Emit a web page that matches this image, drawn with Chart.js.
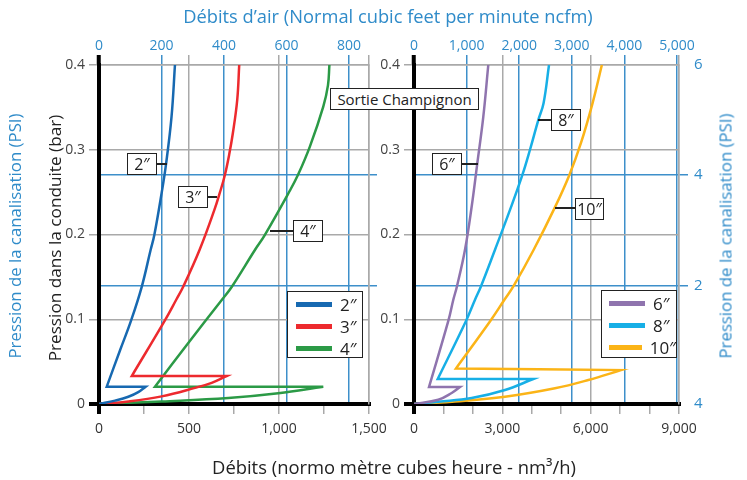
<!DOCTYPE html>
<html>
<head>
<meta charset="utf-8">
<script src="https://cdn.jsdelivr.net/npm/chart.js@4.4.1/dist/chart.umd.min.js"></script>
<style>
  body { margin: 0; background: #fff; font-family: "Open Sans", sans-serif; }
  #wrap { position: relative; width: 747px; height: 480px; overflow: hidden; }
  canvas { position: absolute; top: 0; }
  .t { position: absolute; white-space: nowrap; transform: translate(-50%, -50%); }
  .rot { transform: translate(-50%, -50%) rotate(-90deg); }
  .box { position: absolute; background: #fff; border: 1.5px solid #222; box-sizing: border-box;
         color: #222; font-size: 16px; display: flex; align-items: center; justify-content: center; }
  .lead { position: absolute; height: 1.5px; background: #222; }
  .legend { position: absolute; background: #fff; border: 1.5px solid #222; box-sizing: border-box; padding-top: 1px; }
  .lrow { height: 22px; display: flex; align-items: center; font-size: 17px; color: #222; }
  .sw { display: inline-block; width: 36px; height: 5px; margin-right: 8px; }
</style>
</head>
<body>
<div id="wrap">
  <canvas id="left" width="395" height="480" style="left:0"></canvas>
  <canvas id="right" width="377" height="480" style="left:370px"></canvas>

  <div class="t" style="left:388px;top:15px;font-size:18.3px;color:#2f8bc9">Débits d’air (Normal cubic feet per minute ncfm)</div>
  <div class="t" style="left:394px;top:466px;font-size:18.4px;color:#222">Débits (normo mètre cubes heure - nm³/h)</div>
  <div class="t rot" style="left:14px;top:236px;font-size:16.8px;color:#2f8bc9">Pression de la canalisation (PSI)</div>
  <div class="t rot" style="left:54px;top:238px;font-size:17.2px;color:#222">Pression dans la conduite (bar)</div>
  <div class="t rot" style="left:725px;top:236px;font-size:16.8px;color:#2f8bc9">Pression de la canalisation (PSI)</div>

  <div class="box" style="left:330px;top:88px;width:149px;height:22px;font-size:15px">Sortie Champignon</div>
  <div class="lead" style="left:156px;top:163px;width:11px"></div>
  <div class="box" style="left:127px;top:153px;width:30px;height:22px">2″</div>
  <div class="lead" style="left:207px;top:196px;width:10px"></div>
  <div class="box" style="left:178px;top:186px;width:30px;height:22px">3″</div>
  <div class="lead" style="left:270px;top:230px;width:24px"></div>
  <div class="box" style="left:293px;top:220px;width:30px;height:22px">4″</div>
  <div class="lead" style="left:461px;top:163px;width:17px"></div>
  <div class="box" style="left:432px;top:153px;width:30px;height:22px">6″</div>
  <div class="lead" style="left:538px;top:119px;width:14px"></div>
  <div class="box" style="left:551px;top:109px;width:30px;height:22px">8″</div>
  <div class="lead" style="left:555px;top:207px;width:21px"></div>
  <div class="box" style="left:575px;top:198px;width:29px;height:22px">10″</div>

  <div class="legend" id="legL" style="left:287px;top:291px;width:76px;height:67px;padding-left:8px"></div>
  <div class="legend" id="legR" style="left:601px;top:290px;width:76px;height:68px;padding-left:7px"></div>
</div>

<script>
// flow in nm3/h (x) and pressure in bar (y):
// origin -> peak -> jump back -> up to 0.4 bar
const flow2 = [0, 89, 163, 218, 259, 43, 118, 179, 237, 287, 307, 348, 373, 403, 422];
const pres2 = [0, 0.004, 0.0085, 0.014, 0.0205, 0.0205, 0.064, 0.099, 0.138, 0.182, 0.199, 0.249, 0.284, 0.339, 0.4];
const flow3 = [0, 163, 348, 533, 626, 709, 182, 367, 429, 467, 559, 641, 671, 699, 723, 744, 768, 779];
const pres3 = [0, 0.003, 0.009, 0.019, 0.025, 0.033, 0.033, 0.099, 0.123, 0.138, 0.182, 0.229, 0.249, 0.270, 0.294, 0.320, 0.359, 0.4];
const flow4 = [0, 348, 718, 996, 1246, 311, 496, 683, 737, 867, 920, 1061, 1107, 1172, 1246, 1272, 1280];
const pres4 = [0, 0.003, 0.007, 0.0126, 0.0204, 0.0204, 0.072, 0.123, 0.138, 0.182, 0.199, 0.252, 0.271, 0.304, 0.351, 0.376, 0.4];

const flow6 = [0, 825, 1280, 1562, 509, 1165, 1335, 1460, 1732, 1959, 2150, 2354, 2523];
const pres6 = [0, 0.005, 0.013, 0.020, 0.020, 0.098, 0.123, 0.139, 0.182, 0.233, 0.284, 0.339, 0.4];
const flow8 = [0, 825, 1959, 3090, 4051, 805, 1766, 2072, 2276, 2751, 3260, 3678, 3939, 4221, 4400, 4585];
const pres8 = [0, 0.0027, 0.007, 0.0165, 0.0295, 0.0295, 0.098, 0.123, 0.139, 0.182, 0.229, 0.270, 0.300, 0.335, 0.355, 0.4];
const flow10 = [0, 1392, 3090, 4788, 5919, 7030, 1426, 2591, 3070, 3379, 4065, 4785, 5274, 5671, 6065, 6380];
const pres10 = [0, 0.003, 0.0086, 0.0185, 0.0283, 0.040, 0.042, 0.098, 0.123, 0.139, 0.182, 0.232, 0.270, 0.308, 0.355, 0.4];

const leftSizes = ['2″', '3″', '4″'];
const rightSizes = ['6″', '8″', '10″'];
const leftColors = ['#1769b1', '#ed2a2e', '#2b9a46'];
const rightColors = ['#8f74ae', '#17afe6', '#fbb417'];

const barTicks = [0, 0.1, 0.2, 0.3, 0.4];
const barLabels = ['0', '0.1', '0.2', '0.3', '0.4'];
const psiTicksBar = [0, 0.139, 0.27, 0.4];
const psiLabels = ['4', '2', '4', '6'];

const nmTicksLeft = [0, 250, 500, 750, 1000, 1250, 1500];
const nmLabelsLeft = ['0', '', '500', '', '1,000', '', '1,500'];
const nmTicksRight = [0, 1000, 2000, 3000, 4000, 5000, 6000, 7000, 8000, 9000];
const nmLabelsRight = ['0', '', '', '3,000', '', '', '6,000', '', '', '9,000'];
const cfmTicksLeft = [0, 200, 400, 600, 800];
const cfmLabelsLeft = ['0', '200', '400', '600', '800'];
const cfmTicksRight = [0, 1000, 2000, 3000, 4000, 5000];
const cfmLabelsRight = ['0', '1,000', '2,000', '3,000', '4,000', '5,000'];

const GRAY = '#a9a9a9';
const BLUE = '#3d8fca';
const BLUE_TXT = '#2f8bc9';
Chart.defaults.font.family = "'Open Sans', sans-serif";

// points, with corners doubled so the spline stays sharp at the jump
function path(xs, ys) {
  const pts = [];
  for (let i = 0; i < xs.length; i++) {
    const p = { x: xs[i], y: ys[i] };
    pts.push(p);
    if ((i + 1 < xs.length && xs[i + 1] < xs[i]) || (i > 0 && xs[i - 1] > xs[i])) pts.push({ x: p.x, y: p.y });
  }
  return pts;
}

function makeChart(id, c) {
  const gridNm = c.nmTicks.filter((v, i) => v > 0 && c.nmLabels[i] !== '');
  new Chart(document.getElementById(id), {
    type: 'line',
    data: {
      datasets: c.sizes.map((s, i) => ({
        label: s,
        data: path(c.flows[i], c.pres[i]),
        borderColor: c.colors[i],
        borderWidth: 2.5,
        pointRadius: 0,
        tension: 0.4,
        fill: false,
        xAxisID: 'x',
        yAxisID: 'y',
      })),
    },
    options: {
      responsive: false,
      animation: false,
      layout: { padding: 0 },
      plugins: { legend: { display: false }, tooltip: { enabled: false } },
      scales: {
        x: {
          type: 'linear', position: 'bottom', min: 0, max: c.nmMax,
          afterBuildTicks: s => { s.ticks = c.nmTicks.map(v => ({ value: v })); },
          afterFit: s => { s.height = 76; },
          ticks: { autoSkip: false, maxRotation: 0, color: '#333', font: { size: 14 }, padding: 7,
                   callback: v => c.nmLabels[c.nmTicks.indexOf(v)] },
          grid: {
            color: k => k.tick.value === 0 ? '#000' : (gridNm.includes(k.tick.value) ? GRAY : 'transparent'),
            lineWidth: k => k.tick.value === 0 ? 4 : 1.5,
            tickColor: k => k.tick.value === 0 ? '#000' : GRAY,
            tickWidth: k => k.tick.value === 0 ? 4 : 1.5,
            tickLength: 10,
          },
          border: { color: '#000', width: 4 },
        },
        xTop: {
          type: 'linear', position: 'top', min: 0, max: c.cfmMax,
          afterBuildTicks: s => {
            s.ticks = c.cfmTicks.map(v => ({ value: v }))
              .concat(gridNm.map(v => ({ value: v * c.cfmMax / c.nmMax })));
          },
          afterFit: s => { s.height = 65; },
          ticks: { autoSkip: false, maxRotation: 0, color: BLUE_TXT, font: { size: 14 }, padding: 1,
                   callback: v => { const i = c.cfmTicks.indexOf(v); return i < 0 ? '' : c.cfmLabels[i]; } },
          grid: {
            color: k => k.tick.value === 0 ? 'transparent' : (c.cfmTicks.includes(k.tick.value) ? BLUE : 'transparent'),
            lineWidth: 1.5,
            tickColor: k => k.tick.value === 0 ? '#000' : (c.cfmTicks.includes(k.tick.value) ? BLUE : GRAY),
            tickWidth: k => k.tick.value === 0 ? 4 : 1.5,
            tickLength: 10,
          },
          border: { color: GRAY, width: 1.5 },
        },
        y: {
          type: 'linear', position: 'left', min: 0, max: 0.4,
          afterBuildTicks: s => { s.ticks = barTicks.map(v => ({ value: v })); },
          afterFit: s => { s.width = c.leftW; },
          ticks: { color: '#444', font: { size: 14 }, padding: 4,
                   callback: v => barLabels[barTicks.indexOf(v)] },
          grid: {
            color: k => k.tick.value === 0 ? '#000' : GRAY,
            lineWidth: k => k.tick.value === 0 ? 4 : 1.5,
            tickWidth: k => k.tick.value === 0 ? 4 : 1.5,
            tickLength: 10,
          },
          border: { color: '#000', width: 4 },
        },
        yPsi: {
          type: 'linear', position: 'right', min: 0, max: 0.4,
          afterBuildTicks: s => { s.ticks = psiTicksBar.map(v => ({ value: v })); },
          afterFit: s => { s.width = c.rightW; },
          ticks: { display: c.psiText, color: BLUE_TXT, font: { size: 15 }, padding: 6,
                   callback: v => psiLabels[psiTicksBar.indexOf(v)] },
          grid: {
            color: k => (k.tick.value > 0 && k.tick.value < 0.4) ? BLUE : 'transparent',
            lineWidth: 1.5,
            tickLength: c.psiText ? 9 : 8,
          },
          border: { color: GRAY, width: 1.5 },
        },
      },
    },
  });
}

makeChart('left', {
  sizes: leftSizes, colors: leftColors,
  flows: [flow2, flow3, flow4], pres: [pres2, pres3, pres4],
  nmTicks: nmTicksLeft, nmLabels: nmLabelsLeft, nmMax: 1500,
  cfmTicks: cfmTicksLeft, cfmLabels: cfmLabelsLeft, cfmMax: 864,
  leftW: 99, rightW: 26, psiText: false,
});
makeChart('right', {
  sizes: rightSizes, colors: rightColors,
  flows: [flow6, flow8, flow10], pres: [pres6, pres8, pres10],
  nmTicks: nmTicksRight, nmLabels: nmLabelsRight, nmMax: 9000,
  cfmTicks: cfmTicksRight, cfmLabels: cfmLabelsRight, cfmMax: 5038,
  leftW: 44, rightW: 68, psiText: true,
});

function legend(id, sizes, colors) {
  const el = document.getElementById(id);
  sizes.forEach((s, i) => {
    const row = document.createElement('div');
    row.className = 'lrow';
    row.innerHTML = '<span class="sw" style="background:' + colors[i] + '"></span><span>' + s + '</span>';
    el.appendChild(row);
  });
}
legend('legL', leftSizes, leftColors);
legend('legR', rightSizes, rightColors);
</script>
</body>
</html>
